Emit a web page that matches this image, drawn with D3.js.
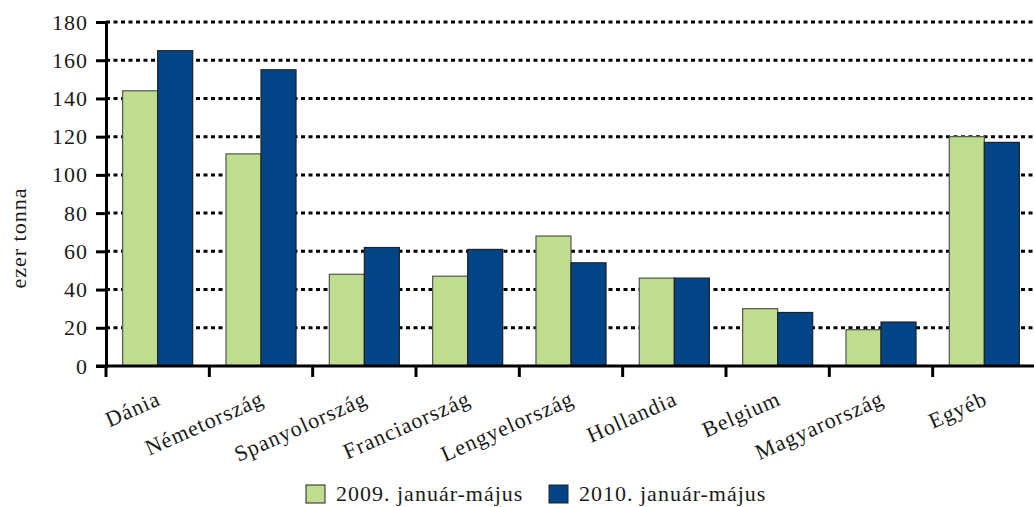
<!DOCTYPE html>
<html>
<head>
<meta charset="utf-8">
<script src="https://cdn.jsdelivr.net/npm/d3@7"></script>
<style>
  body { margin: 0; background: #fff; }
  svg { display: block; }
  svg text { font-family: 'Liberation Serif', serif; letter-spacing: 1px; fill: #1a1a1a; }
</style>
</head>
<body>
<div id="chart"></div>
<script>
// Data
const countries = ['Dánia', 'Németország', 'Spanyolország', 'Franciaország', 'Lengyelország',
  'Hollandia', 'Belgium', 'Magyarország', 'Egyéb'];
const series = ['2009. január-május', '2010. január-május'];
const values2009 = [144, 111, 48, 47, 68, 46, 30, 19, 120];
const values2010 = [165, 155, 62, 61, 54, 46, 28, 23, 117];
const yTicks = [0, 20, 40, 60, 80, 100, 120, 140, 160, 180];
const colors = ['#bedd8e', '#014586'];

// Graph setup
const width = 1034;
const height = 507;
const margin = { top: 22, right: -2, bottom: 141, left: 106 };

const svg = d3.select('#chart')
  .append('svg')
  .attr('width', width)
  .attr('height', height);

const x = d3.scaleBand()
  .domain(countries)
  .range([margin.left, width - margin.right])
  .paddingInner(0)
  .paddingOuter(0);

const xSeries = d3.scaleBand()
  .domain(series)
  .range([0, x.bandwidth()])
  .paddingOuter(0.475)
  .paddingInner(0);

const y = d3.scaleLinear()
  .domain([0, 180])
  .range([height - margin.bottom, margin.top]);

// dotted grid
svg.append('g')
  .selectAll('line')
  .data(yTicks.filter(d => d > 0))
  .enter()
  .append('line')
  .attr('x1', margin.left)
  .attr('x2', width)
  .attr('y1', d => y(d))
  .attr('y2', d => y(d))
  .style('stroke', '#000')
  .style('stroke-width', 3)
  .style('stroke-dasharray', '4,3.5');

// bars
const rows = countries.map((c, i) => ({ country: c, vals: [values2009[i], values2010[i]] }));

const groups = svg.append('g')
  .selectAll('g')
  .data(rows)
  .enter()
  .append('g')
  .attr('transform', d => `translate(${x(d.country)},0)`);

groups.selectAll('rect')
  .data(d => d.vals.map((v, j) => ({ series: series[j], value: v, idx: j })))
  .enter()
  .append('rect')
  .attr('x', d => xSeries(d.series))
  .attr('width', xSeries.bandwidth())
  .attr('y', d => y(d.value))
  .attr('height', d => y(0) - y(d.value))
  .style('fill', d => colors[d.idx])
  .style('stroke', d => d.idx === 0 ? '#555' : '#222')
  .style('stroke-width', 1.2);

// y axis
const yAxis = d3.axisLeft(y)
  .tickValues(yTicks)
  .tickSize(10)
  .tickPadding(8);

const yAxisG = svg.append('g')
  .attr('transform', `translate(${margin.left},0)`)
  .call(yAxis);
yAxisG.select('.domain').style('stroke-width', 3);
yAxisG.selectAll('.tick line').style('stroke-width', 3);
yAxisG.selectAll('text')
  .style('font-size', '22px')
  .style('font-family', "'Liberation Serif', serif");

// x axis: ticks at category boundaries
const xAxisG = svg.append('g')
  .attr('transform', `translate(0,${y(0)})`);
xAxisG.append('line')
  .attr('x1', margin.left - 10)
  .attr('x2', width)
  .style('stroke', '#000')
  .style('stroke-width', 3);
xAxisG.selectAll('.xtick')
  .data(countries)
  .enter()
  .append('line')
  .attr('class', 'xtick')
  .attr('x1', d => x(d))
  .attr('x2', d => x(d))
  .attr('y1', 0)
  .attr('y2', 11)
  .style('stroke', '#000')
  .style('stroke-width', 3);

xAxisG.selectAll('.xlabel')
  .data(countries)
  .enter()
  .append('text')
  .attr('class', 'xlabel')
  .attr('transform', d => `translate(${x(d) + x.bandwidth() / 2 - 2},24) rotate(-24)`)
  .attr('text-anchor', 'end')
  .attr('dy', '0.7em')
  .style('font-size', '22px')
  .text(d => d);

// y label
svg.append('text')
  .attr('transform', `translate(26,${(y(0) + y(180)) / 2 + 44}) rotate(-90)`)
  .attr('text-anchor', 'middle')
  .style('font-size', '22px')
  .text('ezer tonna');

// legend
const legendItems = [
  { label: series[0], color: colors[0], x: 306 },
  { label: series[1], color: colors[1], x: 549 }
];
const legend = svg.append('g')
  .selectAll('g')
  .data(legendItems)
  .enter()
  .append('g')
  .attr('transform', d => `translate(${d.x},485)`);
legend.append('rect')
  .attr('width', 19)
  .attr('height', 18)
  .style('fill', d => d.color)
  .style('stroke', '#222')
  .style('stroke-width', 1);
legend.append('text')
  .attr('x', 30)
  .attr('y', 16)
  .style('font-size', '22px')
  .text(d => d.label);
</script>
</body>
</html>
